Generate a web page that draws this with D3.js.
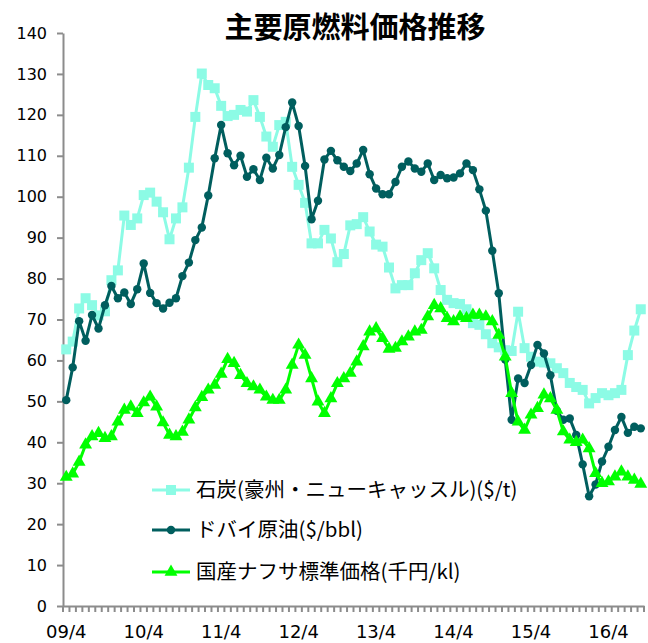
<!DOCTYPE html>
<html>
<head>
<meta charset="utf-8">
<script src="https://cdn.jsdelivr.net/npm/d3@7"></script>
<style>
  body { margin: 0; background: #fff; }
  svg text { font-family: "DejaVu Sans", sans-serif; fill: #000; }
</style>
</head>
<body>
<div id="vis"></div>
<script>
// months run from 2009/4, one point per month
var firstYear = 2009;
var firstMonth = 4;
var monthCount = 90;

var tickLabels = ['09/4', '10/4', '11/4', '12/4', '13/4', '14/4', '15/4', '16/4'];
var yTicks = [0, 10, 20, 30, 40, 50, 60, 70, 80, 90, 100, 110, 120, 130, 140];

var seriesNames = ['石炭(豪州・ニューキャッスル)($/t)', 'ドバイ原油($/bbl)', '国産ナフサ標準価格(千円/kl)'];

var coal = [
  62.7, 64.6, 72.7, 75.2, 73.5, 71, 72, 79.6, 82,
  95.4, 93.1, 94.7, 100.4, 101, 98.8, 96.2, 89.6, 94.7, 97.4, 107.1, 119.5,
  130.1, 127.3, 126.5, 122.2, 119.7, 120, 121.2, 120.8, 123.6, 119.5, 114.7, 112.2,
  117.5, 118.3, 107.3, 102.9, 98.5, 88.6, 88.6, 91.9, 89.8, 84, 86, 93,
  93.3, 95, 91.5, 88.3, 87.8, 82.7, 77.6, 78.4, 78.4, 81.3, 84.5, 86.2,
  82.5, 77.2, 74.8, 74, 73.8, 72.5, 69.1, 68.7, 66.4, 64.2, 63.2, 62.5,
  62.3, 71.9, 63, 60.9, 59.7, 59.5, 59.3, 58.1, 56.9, 54.5, 53.5, 52.8,
  49.5, 50.8, 52, 51.5, 52, 52.8, 61.3, 67.3, 72.5
];

var dubai = [
  50.3, 58.3, 69.6, 64.8, 71.1, 67.8, 73.5, 78.2, 75.2,
  76.6, 73.8, 77.4, 83.7, 76.5, 74, 72.7, 74.1, 75.2, 80.6, 83.9, 89.4,
  92.5, 100.3, 109.4, 117.5, 110.6, 107.7, 110, 104.9, 106.7, 104.1, 109.5, 106.9,
  110.2, 117, 123, 117.3, 107.5, 94.5, 99, 109.1, 111.2, 108.9, 107.3, 106.3,
  108.1, 111.4, 105.5, 102, 100.6, 100.6, 103.6, 107.3, 108.6, 106.9, 106.1, 108.1,
  104.1, 105.3, 104.5, 104.7, 105.7, 108.1, 106.5, 101.8, 96.6, 86.8, 76.4, 60.2,
  45.5, 55.6, 54.5, 58.9, 63.8, 61.7, 56.4, 47.7, 45.5, 45.8, 41.8, 34.6,
  26.8, 29.7, 35.3, 38.9, 43, 46.2, 42.3, 43.8, 43.4
];

var naphtha = [
  31.5, 32.3, 35.2, 39.4, 41.4, 42.2, 41, 41.4, 45,
  47.9, 48.7, 47.1, 49.7, 51.1, 48.7, 44.8, 41.8, 41.4, 42.5, 45.5, 48.5,
  51, 52.8, 54, 56.7, 60.3, 59.3, 56.4, 54.4, 53.6, 52.8, 51.1, 50.3,
  50.3, 52.8, 58.9, 63.8, 61.3, 55.6, 49.9, 47.1, 50.7, 54.4, 55.6, 56.9,
  59.7, 63.4, 67, 67.8, 65.4, 62.8, 63, 64.6, 65.8, 67, 67.4, 70.7,
  73.5, 72.7, 70.3, 69.5, 70.7, 70.3, 71.1, 71.1, 70.7, 69.5, 66.2, 60.9,
  52, 45, 43, 46.7, 48.3, 51.6, 50.7, 47.9, 42.6, 40.6, 40, 40.6,
  38.5, 32.4, 30, 30.4, 31.6, 32.8, 31.6, 30.8, 29.8
];

var width = 648;
var height = 643;

// category labels like "09/4", "09/5" ...
var months = d3.range(monthCount).map(function (i) {
  var m = firstMonth - 1 + i;
  var yy = (firstYear + Math.floor(m / 12)) % 100;
  return (yy < 10 ? '0' : '') + yy + '/' + (m % 12 + 1);
});

var x = d3.scaleBand().domain(months).range([63, 644]);
var y = d3.scaleLinear().domain([0, 140]).range([606, 33]);

function cx(d, i) { return x(months[i]) + x.bandwidth() / 2; }

var svg = d3.select('#vis').append('svg')
  .attr('width', width)
  .attr('height', height);

// title
svg.append('text')
  .attr('x', 355)
  .attr('y', 38)
  .attr('text-anchor', 'middle')
  .style('font-family', '"Noto Sans CJK JP", sans-serif')
  .style('font-weight', 'bold')
  .style('font-size', '29px')
  .text('主要原燃料価格推移');

// y axis
var yAxis = svg.append('g')
  .attr('transform', 'translate(63,0)')
  .call(d3.axisLeft(y).tickValues(yTicks).tickSize(6).tickSizeOuter(0).tickPadding(10));
yAxis.selectAll('text').style('font-size', '16px');

// x axis: labels at April, tick marks on every month boundary
var xAxis = svg.append('g')
  .attr('transform', 'translate(0,606)')
  .call(d3.axisBottom(x).tickValues(tickLabels).tickSize(0).tickSizeOuter(0).tickPadding(19));
xAxis.selectAll('text').style('font-size', '18px');

xAxis.selectAll('.month-tick')
  .data(months.concat(['end']))
  .enter().append('line')
  .attr('class', 'month-tick')
  .attr('x1', function (d) { return d === 'end' ? x.range()[1] : x(d); })
  .attr('x2', function (d) { return d === 'end' ? x.range()[1] : x(d); })
  .attr('y1', 0)
  .attr('y2', 6);

svg.selectAll('.domain, .tick line, .month-tick')
  .attr('stroke', '#8c8c8c')
  .attr('stroke-width', 2);

var line = d3.line()
  .x(cx)
  .y(function (d) { return y(d); });

var series = [
  { name: seriesNames[0], values: coal, color: '#8cfbe5', symbol: d3.symbolSquare, size: 100 },
  { name: seriesNames[1], values: dubai, color: '#005e5e', symbol: d3.symbolCircle, size: 56 },
  { name: seriesNames[2], values: naphtha, color: '#00ff00', symbol: d3.symbolTriangle, size: 72 }
];

series.forEach(function (s) {
  var g = svg.append('g');
  g.append('path')
    .attr('d', line(s.values))
    .attr('fill', 'none')
    .attr('stroke', s.color)
    .attr('stroke-width', 3)
    .attr('stroke-linejoin', 'round');

  g.selectAll('.marker')
    .data(s.values)
    .enter().append('path')
    .attr('class', 'marker')
    .attr('transform', function (d, i) { return 'translate(' + cx(d, i) + ',' + y(d) + ')'; })
    .attr('d', d3.symbol(s.symbol, s.size))
    .attr('fill', s.color);
});

// legend
var legendY = [490, 530, 572];
var legend = svg.selectAll('.legend')
  .data(series)
  .enter().append('g')
  .attr('class', 'legend')
  .attr('transform', function (d, i) { return 'translate(152,' + legendY[i] + ')'; });

legend.append('line')
  .attr('x1', 0)
  .attr('x2', 38)
  .attr('stroke', function (d) { return d.color; })
  .attr('stroke-width', 3);

legend.append('path')
  .attr('transform', 'translate(19,0)')
  .attr('d', function (d) { return d3.symbol(d.symbol, d.size)(); })
  .attr('fill', function (d) { return d.color; });

legend.append('text')
  .attr('x', 44)
  .attr('dy', '0.35em')
  .style('font-family', '"Noto Sans CJK JP", sans-serif')
  .style('font-size', '20.5px')
  .text(function (d) { return d.name; });
</script>
</body>
</html>
